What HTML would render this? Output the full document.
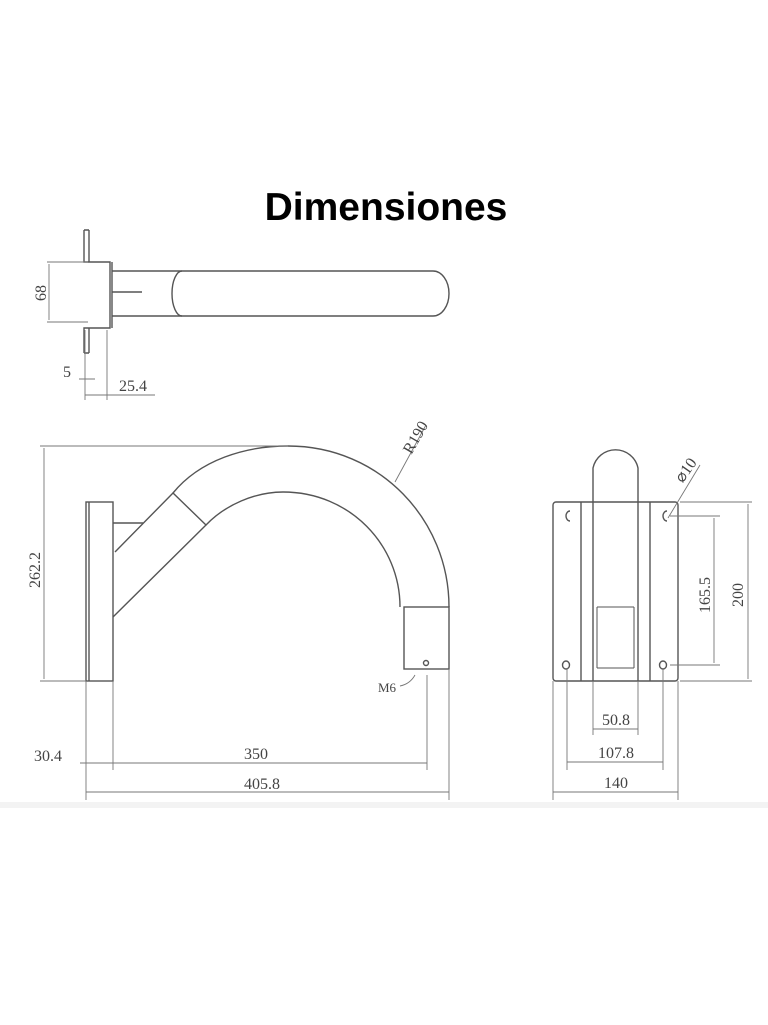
<!DOCTYPE html>
<html><head><meta charset="utf-8"><style>
html,body{margin:0;padding:0;background:#fff;width:768px;height:1025px;overflow:hidden}
svg{display:block}
.t{font-family:"Liberation Serif",serif;font-size:16px;fill:#444}
</style></head><body>
<svg width="768" height="1025" viewBox="0 0 768 1025" xmlns="http://www.w3.org/2000/svg">
<rect x="0" y="0" width="768" height="1025" fill="#fff"/>
<rect x="0" y="802" width="768" height="6" fill="#f3f3f3"/>
<text x="386" y="220" text-anchor="middle" font-family="Liberation Sans, sans-serif" font-weight="bold" font-size="39" fill="#000">Dimensiones</text>

<g fill="none" stroke="#555" stroke-width="1.4">
<!-- top view -->
<path d="M84,230 V262 H110 V328 H84 V353 M89,230 V262 M89,328 V353 M84,230 H89 M84,353 H89"/>
<path d="M112,262 V328"/>
<path d="M112,271 H433 A16,22.5 0 0 1 433,316 H112"/>
<path d="M182,271 A10,22.5 0 0 0 182,316"/>
<path d="M112,292 H142"/>
<g stroke-width="0.9" stroke="#777">
<path d="M47,262 H88 M47,322 H88 M49,264 V320"/>
<path d="M85,330 V400 M107,330 V400 M79,379 H95 M85,395 H155"/>
</g>

<!-- side view -->
<rect x="86" y="502" width="27" height="179"/>
<path d="M89,502 V681"/>
<path d="M113,523 H143"/>
<path d="M115,552 L173,493 L206,525 L113,617"/>
<path d="M173,493 C200,460 245,446 288,446 C380,446 449,520 449,607"/>
<path d="M206,525 C225,505 255,492 283,492 C350,492 400,545 400,607"/>
<rect x="404" y="607" width="45" height="62"/>
<circle cx="426" cy="663" r="2.5"/>
<g stroke-width="0.9" stroke="#777">
<path d="M395,482 L426,425"/>
<path d="M400,686 Q410,684 415,675"/>
<path d="M40,446 H288 M40,681 H86 M44,448 V679"/>
<path d="M86,681 V800 M113,681 V770 M427,675 V770 M449,669 V800"/>
<path d="M80,763 H427 M86,792 H449"/>
</g>

<!-- front view -->
<rect x="553" y="502" width="125" height="179" rx="3"/>
<path d="M581,502 V681 M650,502 V681"/>
<path d="M593,681 V468 A23,23 0 0 1 638,468 V681"/>
<path d="M597,668 V607 M634,668 V607 M597,668 H634 M597,607 H634" stroke-width="1"/>
<ellipse cx="566" cy="665" rx="3.5" ry="4"/>
<ellipse cx="663" cy="665" rx="3.5" ry="4"/>
<path d="M570,511 A4,5 0 1 0 570,521 M667,511 A4,5 0 1 0 667,521"/>
<g stroke-width="0.9" stroke="#777">
<path d="M668,518 L700,465"/>
<path d="M670,516 H720 M670,665 H720 M714,518 V663"/>
<path d="M680,502 H752 M680,681 H752 M748,504 V679"/>
<path d="M553,681 V800 M678,681 V800 M567,668 V770 M663,668 V770 M593,681 V735 M638,681 V735"/>
<path d="M593,729 H638 M567,762 H663 M553,792 H678"/>
</g>
</g>

<g class="t">
<text x="46" y="293" text-anchor="middle" transform="rotate(-90 46 293)">68</text>
<text x="67" y="377" text-anchor="middle">5</text>
<text x="133" y="391" text-anchor="middle">25.4</text>
<text x="420" y="440" text-anchor="middle" transform="rotate(-60 420 440)">R190</text>
<text x="387" y="692" text-anchor="middle" font-size="13">M6</text>
<text x="40" y="570" text-anchor="middle" transform="rotate(-90 40 570)">262.2</text>
<text x="48" y="761" text-anchor="middle">30.4</text>
<text x="256" y="759" text-anchor="middle">350</text>
<text x="262" y="789" text-anchor="middle">405.8</text>
<text x="690" y="473" text-anchor="middle" transform="rotate(-55 690 473)">⌀10</text>
<text x="710" y="595" text-anchor="middle" transform="rotate(-90 710 595)">165.5</text>
<text x="743" y="595" text-anchor="middle" transform="rotate(-90 743 595)">200</text>
<text x="616" y="725" text-anchor="middle">50.8</text>
<text x="616" y="758" text-anchor="middle">107.8</text>
<text x="616" y="788" text-anchor="middle">140</text>
</g>
</svg>
</body></html>
